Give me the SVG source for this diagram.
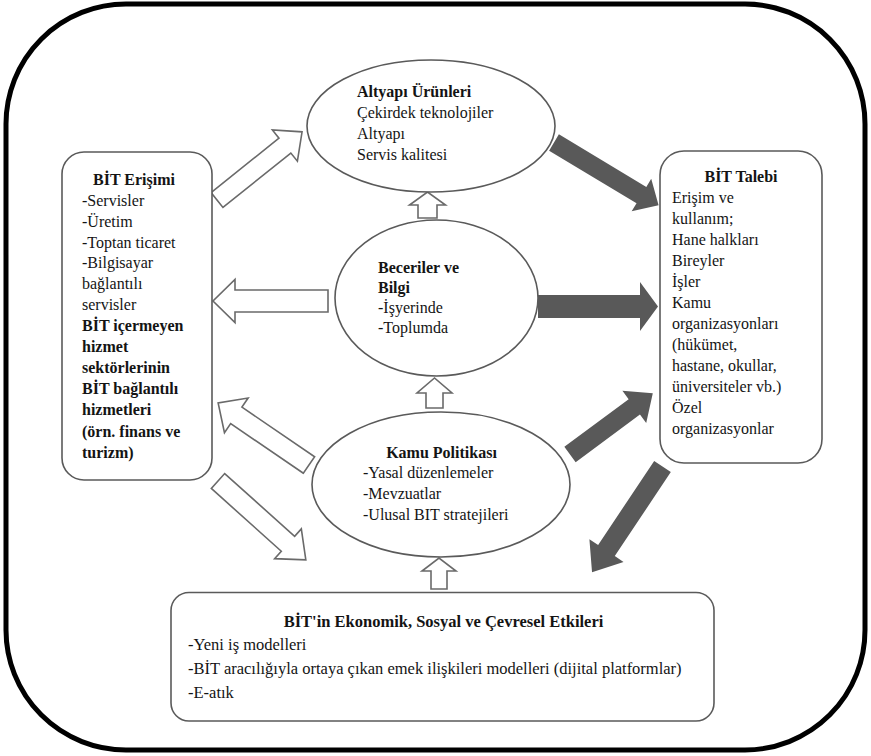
<svg xmlns="http://www.w3.org/2000/svg" width="871" height="756" viewBox="0 0 871 756">
<defs>
<style>
text{font-family:'Liberation Serif','DejaVu Serif',serif;font-size:16px;fill:#141414;}
.b{font-weight:bold;}
.lg{font-size:16.5px;}
.node{fill:#fff;stroke:#5a5a5a;stroke-width:1.6;}
.hollow{fill:#fff;stroke:#6a6a6a;stroke-width:1.6;stroke-linejoin:miter;}
.solid{fill:#595959;stroke:none;}
</style>
</defs>
<rect x="0" y="0" width="871" height="756" fill="#fff"/>
<rect x="6" y="4" width="859" height="746" rx="120" ry="120" fill="none" stroke="#000" stroke-width="5"/>
<g id="connectors">
<path class="hollow" transform="translate(217,200) rotate(-38.7)" d="M0,-9.5 L87,-9.5 L87,-20 L109,0 L87,20 L87,9.5 L0,9.5 Z"/>
<path class="hollow" transform="translate(328,301) rotate(180)" d="M0,-11 L93,-11 L93,-21.5 L115,0 L93,21.5 L93,11 L0,11 Z"/>
<path class="hollow" transform="translate(309,465) rotate(-145.7)" d="M0,-10 L88,-10 L88,-21 L110,0 L88,21 L88,10 L0,10 Z"/>
<path class="hollow" transform="translate(218,481) rotate(41.9)" d="M0,-10 L94,-10 L94,-20 L118,0 L94,20 L94,10 L0,10 Z"/>
<path class="hollow" transform="translate(427.5,218) rotate(-90)" d="M0,-9.5 L13,-9.5 L13,-18 L26,0 L13,18 L13,9.5 L0,9.5 Z"/>
<path class="hollow" transform="translate(434.5,408) rotate(-90)" d="M0,-8.5 L15,-8.5 L15,-17.5 L30,0 L15,17.5 L15,8.5 L0,8.5 Z"/>
<path class="hollow" transform="translate(439,589) rotate(-90)" d="M0,-8 L18,-8 L18,-17 L31,0 L18,17 L18,8 L0,8 Z"/>
<path class="solid" transform="translate(554,142.5) rotate(31)" d="M0,-9.5 L102,-9.5 L102,-19 L122,0 L102,19 L102,9.5 L0,9.5 Z"/>
<path class="solid" transform="translate(538,306.5)" d="M0,-11.5 L102,-11.5 L102,-24.5 L120,0 L102,24.5 L102,11.5 L0,11.5 Z"/>
<path class="solid" transform="translate(570,454.5) rotate(-36.5)" d="M0,-9.5 L80,-9.5 L80,-20 L103,0 L80,20 L80,9.5 L0,9.5 Z"/>
<path class="solid" transform="translate(662.5,466.5) rotate(123.7)" d="M0,-10 L101,-10 L101,-20.5 L127,0 L101,20.5 L101,10 L0,10 Z"/>
</g>
<g id="altyapi">
<ellipse class="node" cx="431" cy="126" rx="124" ry="66"/>
<text x="357" y="97" class="b">Altyapı Ürünleri</text>
<text x="357" y="118">Çekirdek teknolojiler</text>
<text x="357" y="139">Altyapı</text>
<text x="357" y="160">Servis kalitesi</text>
</g>
<g id="beceriler">
<ellipse class="node" cx="436.5" cy="298" rx="101.5" ry="78"/>
<text x="378" y="273" class="b">Beceriler ve</text>
<text x="378" y="293" class="b">Bilgi</text>
<text x="378" y="313">-İşyerinde</text>
<text x="378" y="333">-Toplumda</text>
</g>
<g id="kamu">
<ellipse class="node" cx="441" cy="484.5" rx="129" ry="72.5"/>
<text x="441.5" y="458" class="b" text-anchor="middle">Kamu Politikası</text>
<text x="363" y="478">-Yasal düzenlemeler</text>
<text x="363" y="499">-Mevzuatlar</text>
<text x="363" y="520">-Ulusal BIT stratejileri</text>
</g>
<g id="erisim">
<rect class="node" x="62" y="152" width="150" height="328" rx="22" ry="22"/>
<text x="93" y="185" class="b">BİT Erişimi</text>
<text x="82" y="206">-Servisler</text>
<text x="82" y="227">-Üretim</text>
<text x="82" y="248">-Toptan ticaret</text>
<text x="82" y="268">-Bilgisayar</text>
<text x="82" y="289">bağlantılı</text>
<text x="82" y="310">servisler</text>
<text x="82" y="331" class="b">BİT içermeyen</text>
<text x="82" y="352" class="b">hizmet</text>
<text x="82" y="373" class="b">sektörlerinin</text>
<text x="82" y="394" class="b">BİT bağlantılı</text>
<text x="82" y="415" class="b">hizmetleri</text>
<text x="82" y="437" class="b">(örn. finans ve</text>
<text x="82" y="458" class="b">turizm)</text>
</g>
<g id="talebi">
<rect class="node" x="660" y="151" width="162" height="312" rx="24" ry="24"/>
<text x="741" y="182" class="b" text-anchor="middle">BİT Talebi</text>
<text x="672" y="203">Erişim ve</text>
<text x="672" y="224">kullanım;</text>
<text x="672" y="245">Hane halkları</text>
<text x="672" y="266">Bireyler</text>
<text x="672" y="287">İşler</text>
<text x="672" y="308">Kamu</text>
<text x="672" y="329">organizasyonları</text>
<text x="672" y="350">(hükümet,</text>
<text x="672" y="371">hastane, okullar,</text>
<text x="672" y="392">üniversiteler vb.)</text>
<text x="672" y="413">Özel</text>
<text x="672" y="434">organizasyonlar</text>
</g>
<g id="etkiler">
<rect class="node" x="171" y="592.5" width="543" height="128.5" rx="18" ry="18"/>
<text x="443.5" y="627" class="b lg" text-anchor="middle">BİT'in Ekonomik, Sosyal ve Çevresel Etkileri</text>
<text x="188" y="650" class="lg">-Yeni iş modelleri</text>
<text x="188" y="674" class="lg">-BİT aracılığıyla ortaya çıkan emek ilişkileri modelleri (dijital platformlar)</text>
<text x="188" y="698" class="lg">-E-atık</text>
</g>
</svg>
